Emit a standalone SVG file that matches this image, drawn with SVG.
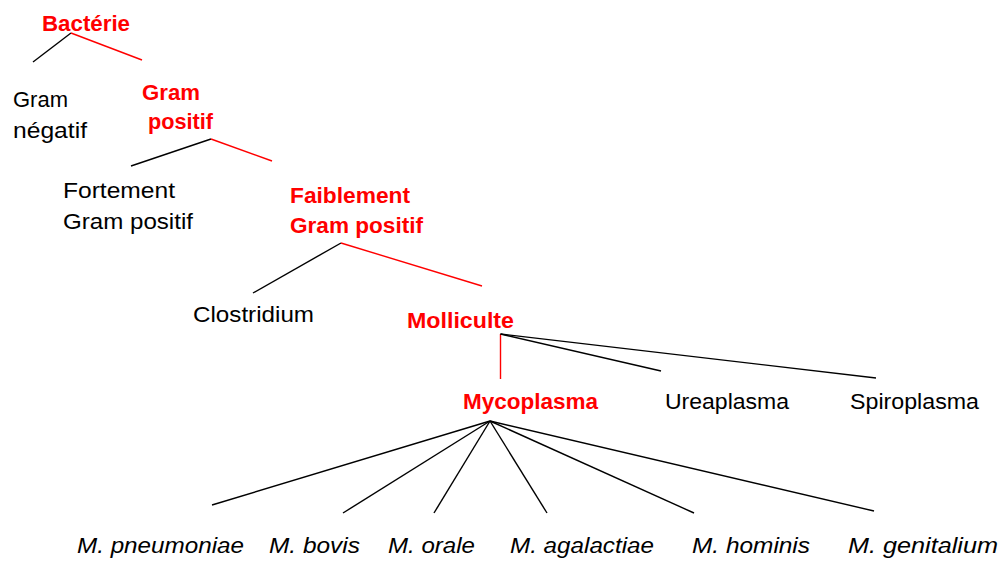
<svg xmlns="http://www.w3.org/2000/svg" width="1000" height="561" viewBox="0 0 1000 561">
<style>
text{font-family:"Liberation Sans",Arial,sans-serif;font-size:22px;fill:#000}
.r{fill:#ff0000;font-weight:bold}
.i{font-style:italic}
.k{stroke:#000;stroke-width:1.4;fill:none}
.rl{stroke:#ff0000;stroke-width:1.4;fill:none}
</style>
<rect width="1000" height="561" fill="#fff"/>
<g id="connectors">
<line class="k" x1="71" y1="33" x2="33" y2="62"/>
<line class="rl" x1="71" y1="33" x2="142" y2="60"/>
<line class="k" x1="211" y1="139" x2="131" y2="166"/>
<line class="rl" x1="211" y1="139" x2="272" y2="161"/>
<line class="k" x1="341" y1="243" x2="253" y2="293"/>
<line class="rl" x1="341" y1="243" x2="482" y2="286"/>
<line class="rl" x1="500.5" y1="334" x2="500.5" y2="379"/>
<line class="k" x1="500.5" y1="334" x2="661" y2="371"/>
<line class="k" x1="500.5" y1="334" x2="876" y2="378"/>
<line class="k" x1="490" y1="421" x2="212" y2="505"/>
<line class="k" x1="490" y1="421" x2="343" y2="513"/>
<line class="k" x1="490" y1="421" x2="434" y2="513"/>
<line class="k" x1="490" y1="421" x2="547" y2="513"/>
<line class="k" x1="490" y1="421" x2="694" y2="513"/>
<line class="k" x1="490" y1="421" x2="874" y2="511"/>
</g>
<g id="bacterie"><text class="r" x="42" y="31" textLength="88" lengthAdjust="spacingAndGlyphs">Bactérie</text></g>
<g id="gram-negatif"><text x="13" y="107" textLength="55" lengthAdjust="spacingAndGlyphs">Gram</text><text x="13" y="138" textLength="74" lengthAdjust="spacingAndGlyphs">négatif</text></g>
<g id="gram-positif"><text class="r" x="142" y="100" textLength="58" lengthAdjust="spacingAndGlyphs">Gram</text><text class="r" x="148" y="129" textLength="65" lengthAdjust="spacingAndGlyphs">positif</text></g>
<g id="fortement"><text x="63" y="198" textLength="112" lengthAdjust="spacingAndGlyphs">Fortement</text><text x="63" y="229" textLength="130" lengthAdjust="spacingAndGlyphs">Gram positif</text></g>
<g id="faiblement"><text class="r" x="290" y="203" textLength="120" lengthAdjust="spacingAndGlyphs">Faiblement</text><text class="r" x="290" y="233" textLength="133" lengthAdjust="spacingAndGlyphs">Gram positif</text></g>
<g id="clostridium"><text x="193" y="322" textLength="121" lengthAdjust="spacingAndGlyphs">Clostridium</text></g>
<g id="molliculte"><text class="r" x="407" y="328" textLength="107" lengthAdjust="spacingAndGlyphs">Molliculte</text></g>
<g id="mycoplasma"><text class="r" x="463" y="409" textLength="135" lengthAdjust="spacingAndGlyphs">Mycoplasma</text></g>
<g id="ureaplasma"><text x="665" y="409" textLength="124" lengthAdjust="spacingAndGlyphs">Ureaplasma</text></g>
<g id="spiroplasma"><text x="850" y="409" textLength="129" lengthAdjust="spacingAndGlyphs">Spiroplasma</text></g>
<g id="m-pneumoniae"><text class="i" x="77" y="553" textLength="167" lengthAdjust="spacingAndGlyphs">M. pneumoniae</text></g>
<g id="m-bovis"><text class="i" x="269" y="553" textLength="91" lengthAdjust="spacingAndGlyphs">M. bovis</text></g>
<g id="m-orale"><text class="i" x="388" y="553" textLength="87" lengthAdjust="spacingAndGlyphs">M. orale</text></g>
<g id="m-agalactiae"><text class="i" x="510" y="553" textLength="144" lengthAdjust="spacingAndGlyphs">M. agalactiae</text></g>
<g id="m-hominis"><text class="i" x="692" y="553" textLength="118" lengthAdjust="spacingAndGlyphs">M. hominis</text></g>
<g id="m-genitalium"><text class="i" x="848" y="553" textLength="150" lengthAdjust="spacingAndGlyphs">M. genitalium</text></g>
</svg>
